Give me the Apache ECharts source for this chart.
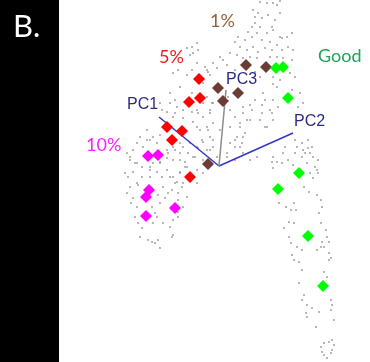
<!DOCTYPE html>
<html>
<head>
<meta charset="utf-8">
<script src="https://cdn.jsdelivr.net/npm/echarts@6/dist/echarts.min.js"></script>
<style>
html,body{margin:0;padding:0;background:#fff;}
#chart{width:370px;height:362px;}
</style>
</head>
<body>
<div id="chart"></div>
<script>
// PCA scores (arbitrary units), origin at centre of loading vectors
const samplesGray = [
[41,164],[48,163],[54,163],[58,161],[61,165],[39,153],[43,148],[49,151],[56,146],[61,153],
[36,143],[41,139],[29,134],[33,129],[38,133],[48,133],[54,136],[61,129],[43,126],[51,124],
[26,126],[19,129],[16,124],[21,119],[28,116],[34,119],[39,114],[46,118],[53,116],[58,121],
[63,116],[68,129],[69,119],[11,113],[18,111],[24,108],[31,109],[38,108],[51,109],[58,109],
[64,108],[1,109],[4,106],[-6,103],[-14,99],[-22,103],[-26,113],[-27,119],[-21,116],[-11,94],
[-2,98],[8,101],[16,96],[36,94],[41,89],[54,89],[61,86],[71,93],[-32,118],[-29,111],[-22,123],
[34,156],[36,149],[33,139],[53,139],[63,128],[73,133],[74,116],[73,106],[76,89],[73,76],
[54,82],[58,79],[54,66],[59,59],[51,56],[43,53],[41,46],[46,39],[36,66],[33,56],
[31,46],[26,33],[23,23],[16,19],[24,13],[16,6],[8,9],[31,6],[38,9],
[81,73],[79,59],[83,23],[89,26],[93,19],[94,9],[99,6],[96,-1],[99,-7],[91,-7],
[86,13],[66,19],[64,13],[69,6],[63,3],[76,26],
[44,73],[46,66],[43,61],[53,53],[54,46],[48,39],[31,61],[24,53],[28,46],[21,39],
[16,26],[24,29],[84,63],[89,18],[84,16],[78,19],[76,13],[83,9],[91,13],[98,-4],
[94,-12],[54,9],[53,4],[54,-2],[58,4],[74,1],[88,3],
[60,-37],[67,-41],[72,-44],[77,-44],[75,-37],[85,-21],[90,-26],[98,-29],[102,-34],[103,-41],
[100,-47],[102,-57],[107,-64],[108,-71],[110,-76],[105,-81],[110,-87],[112,-92],[110,-94],
[65,-62],[70,-56],[75,-57],[70,-71],[72,-77],[78,-81],[83,-84],[73,-89],[75,-94],[80,-96],
[83,-104],[103,-76],[102,-81],[98,-84],[105,-106],[108,-111],[80,-117],[85,-129],[83,-134],
[88,-139],[93,-142],[100,-146],[87,-147],[88,-151],[112,-134],[113,-139],[112,-144],[115,-154],
[97,-161],[105,-177],[102,-181],[110,-176],[113,-174],[115,-179],[103,-186],[105,-189],
[112,-187],[113,-184],[108,-192],
[-46,93],[-41,96],[-32,91],[-27,96],[-12,96],[-9,91],[-16,83],[-39,79],[-49,73],[-44,66],
[-27,73],[-12,69],[-6,63],[-9,56],[-16,49],[-21,53],[-27,54],[-36,56],[-44,53],[-52,54],
[-49,63],[-57,56],[-59,63],[-22,39],[-12,39],[-6,43],[1,36],[-9,29],[-17,26],[-22,19],
[-12,16],[-6,19],[-2,9],[-16,6],[-24,9],[-31,13],[-36,19],[-29,23],[-39,23],[-44,16],
[-52,16],[-52,8],[-46,6],[-39,6],[-32,-1],[-22,-4],[-16,-7],[-39,-7],[-46,-11],[-36,-17],
[-22,-17],[-52,-4],[-59,3],[-66,3],[-69,-4],[-72,26],[-79,29],[-82,23],[-76,19],[-86,16],
[-89,9],[-84,3],[-77,-1],[-66,29],[-62,23],[-59,31],
[11,56],[16,49],[21,43],[11,39],[18,29],[11,23],[21,19],[8,13],[24,59],[9,69],
[-92,13],[-89,6],[-94,-7],[-91,-11],[-86,-6],[-82,-17],[-89,-21],[-92,-27],[-86,-32],[-82,-41],
[-84,-51],[-81,-57],[-77,-62],[-79,-71],[-71,-74],[-67,-76],[-64,-77],[-61,-74],[-59,-82],
[-56,-57],[-49,-61],[-46,-54],[-41,-51],[-47,-71],[-66,-57],[-62,-51],[-67,-41],[-59,-37],
[-54,-32],[-61,-29],[-56,-21],[-47,-24],[-42,-16],[-37,-21],[-49,-11],[-57,-11],[-62,-6],
[-69,-11],[-77,-11],[-39,-6],[-34,-1],[-32,-31],[-36,-41],[-41,-34],
[-81,-19],[-44,-17],[-51,-27],[-41,-27],[-88,-37],[-64,-47],[-41,-46],[-46,-69],
[-72,36],[-69,26],[-82,3],[-69,-1],[-59,4],[-51,13],[-46,19],[-39,13],[-34,4],[-26,9],
[-21,18],[-16,24],[-9,16],[-6,26],[-11,36],[-19,36],[-26,44],[-36,48],[-46,49],[-42,59],
[-22,56],[-9,53],[-7,63],[-16,63]
];
const samples5 = [[-20,87],[-19,68],[-30,64],[-52,39],[-37,35],[-47,26],[-29,-11]];
const samples1 = [[27,101],[47,99],[-1,78],[19,73],[4,65],[-11,2]];
const samples10 = [[-71,10],[-61,11],[-70,-24],[-73,-31],[-73,-50],[-44,-42]];
const samplesGood = [[57,98],[64,99],[69,68],[80,-7],[59,-23],[89,-70],[104,-120]];
const loadingNames = ['PC1','PC2','PC3'];
const loadings = [[-60,49],[74,33],[7,76]];

const chart = echarts.init(document.getElementById('chart'), null, {renderer:'canvas'});

function diamonds(data, color){
  return {type:'scatter', data:data, symbol:'diamond', symbolSize:12,
    itemStyle:{color:color, opacity:1}, z:5, silent:true};
}
const lineColors = ['#3535c8','#3535c8','#8c8c8c'];
const loadingSeries = loadings.map((p,i)=>({
  type:'line', data:[[0,0],p], symbol:'none', z:4, silent:true,
  lineStyle:{color:lineColors[i], width:1.5}
}));

const labelFont = 'Lato, "Open Sans", sans-serif';
const pcFont = '"Liberation Sans", Arial, sans-serif';

chart.setOption({
  backgroundColor:'#ffffff',
  animation:false,
  grid:{left:59, right:0, top:0, bottom:0, containLabel:false},
  xAxis:{type:'value', min:-160, max:151, show:false},
  yAxis:{type:'value', min:-196, max:166, show:false},
  series:[
    {type:'scatter', data:samplesGray, symbol:'circle', symbolSize:2,
     itemStyle:{color:'#8a8a8a'}, z:2, silent:true},
    ...loadingSeries,
    diamonds(samples5,'#ff0000'),
    diamonds(samples1,'#6b3b36'),
    diamonds(samples10,'#ff00ff'),
    diamonds(samplesGood,'#00ff00')
  ],
  graphic:[
    {type:'rect', left:0, top:0, shape:{width:59, height:362}, style:{fill:'#000'}, z:10},
    {type:'text', x:13, y:27, style:{text:'B.', fill:'#fff', font:'31px '+labelFont, verticalAlign:'middle'}, z:11},
    {type:'text', x:159, y:57, style:{text:'5%', fill:'#ee1c1c', font:'18px '+labelFont, verticalAlign:'middle'}, z:11},
    {type:'text', x:210, y:21, style:{text:'1%', fill:'#94633c', font:'18px '+labelFont, verticalAlign:'middle'}, z:11},
    {type:'text', x:318, y:56, style:{text:'Good', fill:'#1fa35a', font:'18px '+labelFont, verticalAlign:'middle'}, z:11},
    {type:'text', x:86, y:145, style:{text:'10%', fill:'#ff22ff', font:'18px '+labelFont, verticalAlign:'middle'}, z:11},
    {type:'text', x:127, y:105, style:{text:loadingNames[0], fill:'#2b2b86', font:'16px '+pcFont, verticalAlign:'middle'}, z:11},
    {type:'text', x:294, y:122, style:{text:loadingNames[1], fill:'#2b2b86', font:'16px '+pcFont, verticalAlign:'middle'}, z:11},
    {type:'text', x:226, y:80, style:{text:loadingNames[2], fill:'#2b2b86', font:'16px '+pcFont, verticalAlign:'middle'}, z:11}
  ]
});
</script>
</body>
</html>
